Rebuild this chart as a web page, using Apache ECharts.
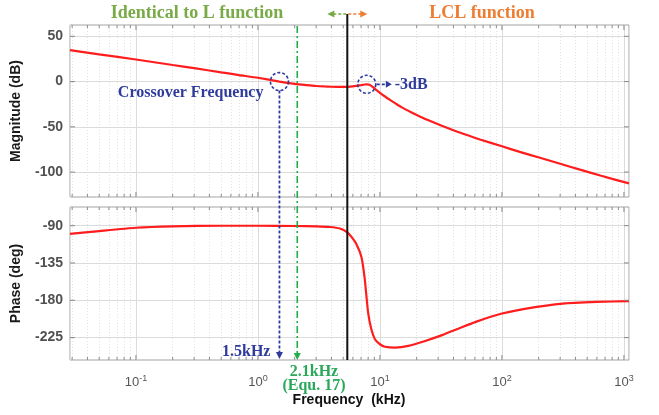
<!DOCTYPE html>
<html>
<head>
<meta charset="utf-8">
<script src="https://cdn.jsdelivr.net/npm/echarts@6/dist/echarts.min.js"></script>
<style>
html, body { margin: 0; padding: 0; background: #fff; }
#main { width: 659px; height: 415px; }
</style>
</head>
<body>
<div id="main"></div>
<script>
// Loop-gain Bode plot: magnitude (dB) and phase (deg) versus frequency (kHz)
const freqMagKHz = [0.0288, 0.05, 0.1, 0.2, 0.3, 0.5, 0.7, 1.0, 1.5, 2.0, 2.5, 3.0, 3.5, 4.0, 4.7,
  5.4, 6.0, 6.5, 7.0, 7.5, 7.8, 8.2, 8.6, 9.1, 10, 11, 12, 13.5, 15, 18, 21, 25, 31, 45, 66,
  100, 140, 205, 300, 437, 640, 1100];
const magDb = [34.8, 30.0, 24.4, 18.3, 14.8, 10.2, 7.2, 4.2, 0.0, -2.5, -3.9, -4.9, -5.4, -5.7, -5.9,
  -5.8, -5.3, -4.6, -3.9, -3.2, -3.0, -3.6, -5.2, -8.0, -12.4, -16.5, -20.0, -24.4, -28.2, -33.8, -38.2, -42.8, -47.9, -56.3, -63.9,
  -71.5, -77.6, -84.2, -90.8, -97.3, -103.8, -112.5];

const freqPhaseKHz = [0.0288, 0.05, 0.1, 0.2, 0.5, 1.0, 2.0, 3.0, 3.9, 4.7, 5.4, 5.8, 6.4, 7.06, 7.5,
  8.0, 8.5, 9.1, 10, 11, 13.3, 17.1, 23.5, 32.3, 44.4, 61, 100, 158, 316, 600, 1100];
const phaseDeg = [-100, -96.5, -92.5, -90.8, -90.1, -90.1, -90.4, -90.9, -91.6, -93.5, -98, -103, -112, -128, -154,
  -195, -215, -227, -233, -236, -237, -235, -229, -222, -214, -206, -196, -190, -184, -182, -181];

const magTicks = [50, 0, -50, -100];
const phaseTicks = [-90, -135, -180, -225];

const crossoverKHz = 1.5;   // crossover frequency
const designKHz = 2.1;      // from Equ. 17
const boundaryKHz = 5.4;    // L / LCL boundary
const fMin = 0.0288, fMax = 1100;

const SANS = '"Liberation Sans", Arial, sans-serif';
const SERIF = '"Liberation Serif", "Times New Roman", serif';
const BLUE = '#2f3b9c';
const GREEN_LINE = '#1fae48';
const GREEN_TXT = '#2aa85a';
const OLIVE = '#78aa46';
const ORANGE = '#ed7d31';
const RED = '#ff1c1c';

// minor decade gridlines (2..9 x 10^k)
const minorX = [];
for (let k = -2; k <= 3; k++) {
  for (let m = 2; m <= 9; m++) {
    const v = m * Math.pow(10, k);
    if (v > fMin && v < fMax) minorX.push(v);
  }
}

const isDecade = v => { const e = Math.log10(v); return Math.abs(e - Math.round(e)) < 1e-6; };
const inList = (list, v) => list.some(t => Math.abs(t - v) < 1e-6);

const chart = echarts.init(document.getElementById('main'), null, { renderer: 'canvas' });

function xAxisFor(grid, labels) {
  return {
    type: 'log', logBase: 10, gridIndex: grid, min: fMin, max: fMax,
    axisLine: { show: false }, axisTick: { show: false },
    splitLine: { show: true, lineStyle: { color: '#dcdcdc', width: 1 } },
    axisLabel: labels ? {
      margin: 14,
      formatter: v => isDecade(v) ? '{b|10}{s|' + Math.round(Math.log10(v)) + '}' : '',
      rich: {
        b: { fontFamily: SANS, fontSize: 13, color: '#555' },
        s: { fontFamily: SANS, fontSize: 9, color: '#555', padding: [0, 0, 8, 0] }
      }
    } : { show: false }
  };
}

function yAxisFor(grid, min, max, step, ticks, name, gap) {
  return {
    type: 'value', gridIndex: grid, min: min, max: max, interval: step,
    axisLine: { show: false }, axisTick: { show: false }, splitLine: { show: false },
    axisLabel: {
      margin: 7, fontFamily: SANS, fontSize: 14, fontWeight: 'bold', color: '#505050',
      formatter: v => inList(ticks, v) ? String(Math.round(v)) : ''
    },
    name: name, nameLocation: 'middle', nameGap: gap,
    nameTextStyle: { fontFamily: SANS, fontSize: 14, fontWeight: 'bold', color: '#1a1a1a' }
  };
}

function gridSeries(grid, yTicks) {
  return {
    type: 'line', xAxisIndex: grid, yAxisIndex: grid, data: [], silent: true, z: 1,
    markLine: {
      silent: true, animation: false, symbol: ['none', 'none'], label: { show: false },
      lineStyle: { color: '#e2e2e2', type: [1, 2], width: 1 },
      data: minorX.map(v => ({ xAxis: v })).concat(
        yTicks.map(v => ({ yAxis: v, lineStyle: { color: '#dcdcdc', type: 'solid', width: 1 } })))
    }
  };
}

chart.setOption({
  animation: false,
  backgroundColor: '#fff',
  grid: [
    { left: 70, top: 25, width: 559, height: 172, show: true, borderColor: '#a3a3a3', borderWidth: 1, backgroundColor: '#fff' },
    { left: 70, top: 207, width: 559, height: 153, show: true, borderColor: '#a3a3a3', borderWidth: 1, backgroundColor: '#fff' }
  ],
  xAxis: [xAxisFor(0, false), xAxisFor(1, true)],
  yAxis: [
    yAxisFor(0, -127.5, 62.5, 2.5, magTicks, 'Magnitude (dB)', 47),
    yAxisFor(1, -252, -67.5, 4.5, phaseTicks, 'Phase (deg)', 47)
  ],
  series: [
    gridSeries(0, magTicks),
    gridSeries(1, phaseTicks),
    {
      type: 'line', xAxisIndex: 0, yAxisIndex: 0, z: 5, showSymbol: false, smooth: 0.2,
      lineStyle: { color: RED, width: 2.2 }, itemStyle: { color: RED },
      data: freqMagKHz.map((f, i) => [f, magDb[i]])
    },
    {
      type: 'line', xAxisIndex: 1, yAxisIndex: 1, z: 5, showSymbol: false, smooth: 0.2,
      lineStyle: { color: RED, width: 2.2 }, itemStyle: { color: RED },
      data: freqPhaseKHz.map((f, i) => [f, phaseDeg[i]])
    }
  ]
});

function text(str, x, y, font, fill, align, vAlign) {
  return {
    type: 'text', z: 20, silent: true,
    style: { text: str, x: x, y: y, font: font, fill: fill,
      textAlign: align || 'center', textVerticalAlign: vAlign || 'middle',
      align: align || 'center', verticalAlign: vAlign || 'middle' }
  };
}
function line(x1, y1, x2, y2, stroke, width, dash) {
  return {
    type: 'line', z: 15, silent: true,
    shape: { x1: x1, y1: y1, x2: x2, y2: y2 },
    style: { stroke: stroke, lineWidth: width, lineDash: dash || null }
  };
}
function tri(points, fill) {
  return { type: 'polygon', z: 16, silent: true, shape: { points: points }, style: { fill: fill } };
}

function overlay() {
  const g = [];
  const top0 = chart.convertToPixel({ yAxisIndex: 0 }, 62.5);
  const bot0 = chart.convertToPixel({ yAxisIndex: 0 }, -127.5);
  const top1 = chart.convertToPixel({ yAxisIndex: 1 }, -67.5);
  const bot1 = chart.convertToPixel({ yAxisIndex: 1 }, -252);
  const left = chart.convertToPixel({ xAxisIndex: 0 }, fMin);
  const right = chart.convertToPixel({ xAxisIndex: 0 }, fMax);

  // inward tick marks on the box edges
  const decades = [0.1, 1, 10, 100, 1000];
  [[top0, bot0], [top1, bot1]].forEach(([t, b]) => {
    decades.concat(minorX).forEach(v => {
      const x = chart.convertToPixel({ xAxisIndex: 0 }, v);
      const len = isDecade(v) ? 5 : 3;
      g.push(line(x, b, x, b - len, '#8a8a8a', 1));
      g.push(line(x, t, x, t + len, '#8a8a8a', 1));
    });
  });
  magTicks.forEach(v => {
    const y = chart.convertToPixel({ yAxisIndex: 0 }, v);
    g.push(line(left, y, left + 5, y, '#8a8a8a', 1));
    g.push(line(right, y, right - 5, y, '#8a8a8a', 1));
  });
  phaseTicks.forEach(v => {
    const y = chart.convertToPixel({ yAxisIndex: 1 }, v);
    g.push(line(left, y, left + 5, y, '#8a8a8a', 1));
    g.push(line(right, y, right - 5, y, '#8a8a8a', 1));
  });

  // L / LCL boundary with the double arrow above it
  const xb = chart.convertToPixel({ xAxisIndex: 0 }, boundaryKHz);
  const ya = 14;
  g.push(line(xb, ya, xb, bot1, '#111', 2));
  g.push(line(xb - 1, ya, xb - 14, ya, OLIVE, 1.6, [3, 2]));
  g.push(tri([[xb - 20, ya], [xb - 13, ya - 3.5], [xb - 13, ya + 3.5]], OLIVE));
  g.push(line(xb + 1, ya, xb + 14, ya, ORANGE, 1.6, [3, 2]));
  g.push(tri([[xb + 20, ya], [xb + 13, ya - 3.5], [xb + 13, ya + 3.5]], ORANGE));

  // crossover marker
  const cross = chart.convertToPixel({ gridIndex: 0 }, [crossoverKHz, 0]);
  g.push({ type: 'circle', z: 16, silent: true, shape: { cx: cross[0], cy: cross[1], r: 9 },
    style: { fill: 'none', stroke: BLUE, lineWidth: 1.6, lineDash: [3, 2] } });
  g.push(line(cross[0], cross[1] + 9, cross[0], bot1 - 7, BLUE, 1.8, [3, 2]));
  g.push(tri([[cross[0], bot1 - 1], [cross[0] - 3.5, bot1 - 8], [cross[0] + 3.5, bot1 - 8]], BLUE));

  // Equ. 17 frequency
  const xg = chart.convertToPixel({ xAxisIndex: 0 }, designKHz);
  g.push(line(xg, top0 + 1, xg, bot1 - 7, GREEN_LINE, 1.6, [7, 3, 2, 3]));
  g.push(tri([[xg, bot1], [xg - 3.5, bot1 - 7], [xg + 3.5, bot1 - 7]], GREEN_LINE));

  // resonance peak marker
  let pk = 0;
  freqMagKHz.forEach((f, i) => { if (f > 3 && f < 20 && (pk === 0 || magDb[i] > magDb[pk])) pk = i; });
  const peak = chart.convertToPixel({ gridIndex: 0 }, [freqMagKHz[pk], magDb[pk]]);
  g.push({ type: 'circle', z: 16, silent: true, shape: { cx: peak[0], cy: peak[1], r: 9 },
    style: { fill: 'none', stroke: BLUE, lineWidth: 1.6, lineDash: [3, 2] } });
  g.push(line(peak[0] + 10, peak[1], peak[0] + 20, peak[1], BLUE, 1.8, [3, 2]));
  g.push(tri([[peak[0] + 25, peak[1]], [peak[0] + 19, peak[1] - 3.5], [peak[0] + 19, peak[1] + 3.5]], BLUE));

  // annotations
  const serifB = sz => 'bold ' + sz + 'px ' + SERIF;
  g.push(text('Identical to L function', 197, 13, serifB(18), OLIVE));
  g.push(text('LCL function', 482, 13, serifB(18), ORANGE));
  g.push(text('Crossover Frequency', cross[0] - 16, cross[1] + 11, serifB(16), BLUE, 'right'));
  g.push(text('-3dB', peak[0] + 28, peak[1] + 0.5, serifB(16), BLUE, 'left'));
  g.push(text('1.5kHz', cross[0] - 9, bot1 - 8, serifB(16), BLUE, 'right'));
  g.push(text('2.1kHz', 314, 372, serifB(16), GREEN_TXT));
  g.push(text('(Equ. 17)', 314, 386, serifB(16), GREEN_TXT));
  g.push(text('Frequency  (kHz)', 349, 400, 'bold 14px ' + SANS, '#111'));

  chart.setOption({ graphic: { elements: g } });
}
overlay();
</script>
</body>
</html>
